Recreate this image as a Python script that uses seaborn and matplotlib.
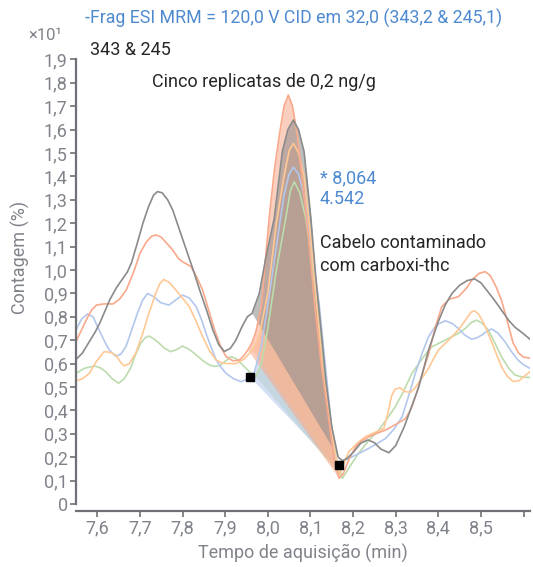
import numpy as np
import pandas as pd
import matplotlib
matplotlib.use("Agg")
import matplotlib.pyplot as plt
import seaborn as sns
from matplotlib.ticker import FuncFormatter

# ---- data (time in min, count in x10^1 %) ----
gray_t = [7.55, 7.565, 7.58, 7.595, 7.606, 7.618, 7.629, 7.645, 7.66, 7.67, 7.68, 7.693, 7.707, 7.72, 7.732,
          7.741, 7.752, 7.765, 7.777, 7.793, 7.809, 7.825, 7.84, 7.856, 7.871, 7.885, 7.898, 7.912, 7.925,
          7.94, 7.952, 7.963, 7.98, 7.995, 8.015, 8.034, 8.047, 8.06, 8.072, 8.085, 8.101, 8.112, 8.125,
          8.136, 8.15, 8.165, 8.175, 8.186, 8.2, 8.218, 8.235, 8.25, 8.265, 8.284, 8.30, 8.32, 8.34, 8.354,
          8.377, 8.40, 8.416, 8.432, 8.45, 8.468, 8.485, 8.5, 8.515, 8.53, 8.548, 8.565, 8.58, 8.598, 8.615]
gray_v = [0.618, 0.645, 0.69, 0.735, 0.774, 0.825, 0.872, 0.925, 0.964, 0.99, 1.03, 1.11, 1.20, 1.27, 1.32,
          1.335, 1.33, 1.30, 1.256, 1.17, 1.085, 1.0, 0.915, 0.83, 0.744, 0.68, 0.652, 0.665, 0.70,
          0.76, 0.80, 0.815, 0.90, 1.05, 1.22, 1.506, 1.60, 1.641, 1.60, 1.506, 1.221, 0.98, 0.74,
          0.53, 0.33, 0.20, 0.185, 0.195, 0.22, 0.26, 0.274, 0.262, 0.235, 0.219, 0.25, 0.33, 0.43, 0.50,
          0.658, 0.78, 0.85, 0.90, 0.935, 0.955, 0.962, 0.945, 0.91, 0.875, 0.829, 0.785, 0.755, 0.73, 0.704]

salmon_t = [7.55, 7.562, 7.575, 7.587, 7.598, 7.615, 7.637, 7.652, 7.668, 7.685, 7.70, 7.715, 7.728, 7.738,
            7.75, 7.765, 7.777, 7.79, 7.80, 7.81, 7.82, 7.833, 7.847, 7.861, 7.875, 7.89, 7.902, 7.918, 7.933,
            7.943, 7.953, 7.963, 7.972, 7.985, 8.003, 8.015, 8.027, 8.038, 8.048, 8.058, 8.069, 8.08, 8.095,
            8.11, 8.125, 8.14, 8.155, 8.167, 8.177, 8.19, 8.206, 8.22, 8.24, 8.26, 8.276, 8.30, 8.323, 8.337,
            8.35, 8.363, 8.377, 8.392, 8.408, 8.425, 8.447, 8.465, 8.48, 8.495, 8.51, 8.522, 8.535, 8.548,
            8.562, 8.575, 8.588, 8.6, 8.615]
salmon_v = [0.694, 0.74, 0.79, 0.83, 0.85, 0.855, 0.855, 0.875, 0.915, 0.99, 1.071, 1.12, 1.145, 1.15,
            1.14, 1.11, 1.085, 1.05, 1.035, 1.025, 1.014, 0.97, 0.915, 0.83, 0.744, 0.67, 0.63, 0.612, 0.615,
            0.632, 0.658, 0.69, 0.736, 0.85, 1.221, 1.42, 1.577, 1.70, 1.748, 1.70, 1.577, 1.40, 1.15,
            0.85, 0.6, 0.4, 0.2, 0.11, 0.13, 0.19, 0.245, 0.27, 0.29, 0.305, 0.316, 0.34, 0.365, 0.41,
            0.48, 0.56, 0.64, 0.75, 0.843, 0.875, 0.886, 0.92, 0.96, 0.985, 0.993, 0.975, 0.93, 0.872,
            0.78, 0.69, 0.645, 0.628, 0.623]

peach_t = [7.55, 7.565, 7.581, 7.598, 7.616, 7.63, 7.643, 7.655, 7.663, 7.675, 7.69, 7.705, 7.721, 7.735,
           7.746, 7.756, 7.77, 7.784, 7.8, 7.816, 7.832, 7.847, 7.863, 7.879, 7.892, 7.905, 7.925, 7.945,
           7.964, 7.98, 8.0, 8.02, 8.038, 8.05, 8.06, 8.072, 8.085, 8.1, 8.115, 8.13, 8.15, 8.167, 8.178,
           8.19, 8.21, 8.229, 8.25, 8.272, 8.282, 8.29, 8.298, 8.31, 8.322, 8.335, 8.345, 8.354, 8.366,
           8.377, 8.39, 8.40, 8.424, 8.447, 8.465, 8.477, 8.485, 8.495, 8.507, 8.517, 8.532, 8.548, 8.562,
           8.576, 8.59, 8.603, 8.615]
peach_v = [0.527, 0.535, 0.558, 0.61, 0.651, 0.648, 0.637, 0.605, 0.59, 0.60, 0.644, 0.72, 0.815, 0.89,
           0.94, 0.96, 0.945, 0.915, 0.88, 0.843, 0.78, 0.715, 0.655, 0.615, 0.603, 0.60, 0.60, 0.62,
           0.658, 0.72, 0.9, 1.2, 1.40, 1.51, 1.541, 1.50, 1.40, 1.15, 0.85, 0.55, 0.3, 0.124, 0.17,
           0.224, 0.26, 0.288, 0.305, 0.323, 0.39, 0.46, 0.49, 0.497, 0.48, 0.478, 0.495, 0.52, 0.55,
           0.58, 0.625, 0.658, 0.70, 0.744, 0.79, 0.82, 0.826, 0.81, 0.77, 0.729, 0.66, 0.587, 0.545,
           0.523, 0.528, 0.548, 0.565]

blue_t = [7.55, 7.563, 7.577, 7.59, 7.604, 7.617, 7.628, 7.643, 7.655, 7.667, 7.68, 7.694, 7.706, 7.718,
          7.733, 7.749, 7.768, 7.784, 7.80, 7.816, 7.832, 7.845, 7.855, 7.867, 7.879, 7.89, 7.902, 7.92,
          7.937, 7.947, 7.957, 7.968, 7.985, 8.0, 8.02, 8.038, 8.05, 8.06, 8.072, 8.085, 8.1, 8.12, 8.14,
          8.159, 8.178, 8.198, 8.218, 8.237, 8.256, 8.276, 8.296, 8.315, 8.33, 8.346, 8.362, 8.377, 8.395,
          8.416, 8.432, 8.447, 8.462, 8.478, 8.49, 8.502, 8.515, 8.525, 8.54, 8.556, 8.572, 8.587, 8.6, 8.615]
blue_v = [0.744, 0.79, 0.812, 0.80, 0.744, 0.695, 0.658, 0.632, 0.64, 0.672, 0.74, 0.815, 0.87, 0.90,
          0.885, 0.86, 0.85, 0.872, 0.893, 0.88, 0.843, 0.785, 0.729, 0.67, 0.615, 0.585, 0.558, 0.535,
          0.523, 0.53, 0.544, 0.56, 0.68, 0.85, 1.1, 1.32, 1.41, 1.44, 1.41, 1.32, 1.12, 0.86, 0.5,
          0.16, 0.185, 0.202, 0.22, 0.238, 0.258, 0.28, 0.32, 0.373, 0.46, 0.558, 0.645, 0.715, 0.765,
          0.783, 0.772, 0.75, 0.722, 0.704, 0.71, 0.722, 0.74, 0.748, 0.73, 0.694, 0.65, 0.615, 0.595, 0.58]

green_t = [7.55, 7.57, 7.593, 7.607, 7.62, 7.635, 7.65, 7.663, 7.678, 7.69, 7.702, 7.712, 7.721, 7.733,
           7.745, 7.758, 7.772, 7.786, 7.80, 7.816, 7.832, 7.848, 7.863, 7.875, 7.886, 7.9, 7.914, 7.928,
           7.941, 7.957, 7.972, 7.985, 8.0, 8.02, 8.042, 8.053, 8.062, 8.075, 8.089, 8.1, 8.12, 8.14, 8.16,
           8.175, 8.194, 8.213, 8.236, 8.26, 8.28, 8.299, 8.318, 8.338, 8.354, 8.37, 8.385, 8.41, 8.432,
           8.448, 8.463, 8.477, 8.49, 8.503, 8.517, 8.532, 8.548, 8.565, 8.58, 8.598, 8.615]
green_v = [0.558, 0.58, 0.59, 0.582, 0.565, 0.535, 0.516, 0.535, 0.58, 0.64, 0.687, 0.71, 0.718, 0.705,
           0.687, 0.665, 0.651, 0.66, 0.675, 0.66, 0.637, 0.612, 0.594, 0.588, 0.59, 0.61, 0.63, 0.618,
           0.594, 0.565, 0.544, 0.6, 0.75, 1.0, 1.22, 1.34, 1.377, 1.33, 1.22, 1.08, 0.78, 0.45, 0.2,
           0.11, 0.165, 0.217, 0.27, 0.316, 0.365, 0.416, 0.48, 0.558, 0.60, 0.64, 0.672, 0.695, 0.715,
           0.73, 0.75, 0.775, 0.786, 0.772, 0.744, 0.69, 0.63, 0.58, 0.551, 0.542, 0.541]

series_names = ["verde", "azul", "pêssego", "salmão", "cinza"]
series_t = [green_t, blue_t, peach_t, salmon_t, gray_t]
series_v = [green_v, blue_v, peach_v, salmon_v, gray_v]
series_colors = ["#bcdcad", "#b3c7ec", "#ffc895", "#f9a98b", "#8a8a8a"]
# integration window (start, end) per series
peak_start = [7.972, 7.957, 7.964, 7.953, 7.963]
peak_end = [8.175, 8.159, 8.167, 8.167, 8.165]
marker_t = [7.957, 8.167]
marker_v = [0.544, 0.167]

x_ticks = [7.6, 7.7, 7.8, 7.9, 8.0, 8.1, 8.2, 8.3, 8.4, 8.5, 8.6]
y_ticks = [round(0.1 * i, 1) for i in range(20)]

# ---- figure ----
sns.set_theme(style="white")
plt.rcParams["font.family"] = ["Roboto", "DejaVu Sans"]

W, H = 533, 567
fig = plt.figure(figsize=(W / 100, H / 100), dpi=100)
ax = fig.add_axes([76 / W, 1 - 504 / H, (530 - 76) / W, (504 - 59.4) / H])

rows = []
for name, ts, vs in zip(series_names, series_t, series_v):
    for t, v in zip(ts, vs):
        rows.append({"t": t, "v": v, "serie": name})
df = pd.DataFrame(rows)

# fills between curve and straight baseline
for name, ts, vs, c, t0, t1 in zip(series_names, series_t, series_v, series_colors, peak_start, peak_end):
    ts = np.asarray(ts); vs = np.asarray(vs)
    m = (ts >= t0 - 1e-9) & (ts <= t1 + 1e-9)
    tt = ts[m]; vv = vs[m]
    b0, b1 = vv[0], vv[-1]
    base = b0 + (b1 - b0) * (tt - tt[0]) / (tt[-1] - tt[0])
    ax.fill_between(tt, base, vv, color=c, alpha=0.55, linewidth=0)

sns.lineplot(data=df, x="t", y="v", hue="serie", hue_order=series_names,
             palette=dict(zip(series_names, series_colors)), legend=False,
             linewidth=1.2, ax=ax, sort=False, estimator=None,
             solid_joinstyle="round", solid_capstyle="round")

ax.plot(marker_t, marker_v, linestyle="none", marker="s", markersize=6, color="black", zorder=5)

ax.set_xlim(7.55, 8.615)
ax.set_ylim(0, 1.9)
ax.set_xticks(x_ticks)
ax.set_yticks(y_ticks)
ax.xaxis.set_major_formatter(FuncFormatter(lambda v, p: "" if v > 8.55 else f"{v:.1f}".replace(".", ",")))
ax.yaxis.set_major_formatter(FuncFormatter(lambda v, p: "0" if abs(v) < 1e-9 else f"{v:.1f}".replace(".", ",")))
ax.set_xlabel("")
ax.set_ylabel("")

spine_c = "#6f7176"
lab_c = "#80838a"
for s in ["top", "right"]:
    ax.spines[s].set_visible(False)
for s in ["left", "bottom"]:
    ax.spines[s].set_color(spine_c)
    ax.spines[s].set_linewidth(1.6)
ax.spines["bottom"].set_position(("outward", 5))
ax.tick_params(axis="both", which="major", direction="out", length=4, width=1.2, color=spine_c,
               labelcolor=lab_c, labelsize=13, left=True, bottom=True, pad=2)

def fx(px):
    return px / W

def fy(py):
    return 1 - py / H

fig.text(fx(303), fy(553), "Tempo de aquisição (min)", ha="center", va="center", fontsize=13, color=lab_c)
fig.text(fx(20), fy(257), "Contagem (%)", ha="center", va="center", rotation=90, fontsize=13, color=lab_c)
fig.text(fx(85), fy(18), "-Frag ESI MRM = 120,0 V CID em 32,0 (343,2 & 245,1)", ha="left", va="center",
         fontsize=12.75, color="#4f8ad0")
fig.text(fx(28), fy(35), "×10¹", ha="left", va="center", fontsize=12, color=lab_c)
fig.text(fx(90), fy(50), "343 & 245", ha="left", va="center", fontsize=13, color="#262626")
fig.text(fx(152), fy(82), "Cinco replicatas de 0,2 ng/g", ha="left", va="center", fontsize=13, color="#262626")
fig.text(fx(320), fy(178), "* 8,064", ha="left", va="center", fontsize=13, color="#4f8ad0")
fig.text(fx(320), fy(199), "4.542", ha="left", va="center", fontsize=13, color="#4f8ad0")
fig.text(fx(320), fy(243), "Cabelo contaminado", ha="left", va="center", fontsize=13, color="#262626")
fig.text(fx(320), fy(266), "com carboxi-thc", ha="left", va="center", fontsize=13, color="#262626")

fig.savefig("out.png", dpi=100)
